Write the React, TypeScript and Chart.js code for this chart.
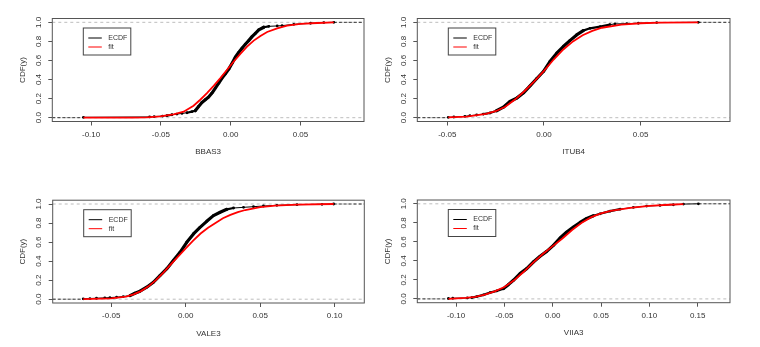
import React, { useEffect, useRef } from 'react';
import { Chart, registerables } from 'chart.js';

Chart.register(...registerables);

// ---------- shared axis values ----------
const yTicks = [0, 0.2, 0.4, 0.6, 0.8, 1.0];
const yRange = [-0.04, 1.04];
const yTitle = 'CDF(y)';
const legendLabels = ['ECDF', 'fit'];

// ---------- BBAS3 ----------
const bbas3Name = 'BBAS3';
const bbas3XTicks = [-0.1, -0.05, 0.0, 0.05];
const bbas3XRange = [-0.1278, 0.0955];
const bbas3EcdfX = [-0.1055, -0.0581, -0.0548, -0.0488, -0.0457, -0.0421, -0.0385, -0.0349, -0.0313, -0.0278, -0.0254, -0.023, -0.0206, -0.0182, -0.0158, -0.0134, -0.011, -0.0086, -0.0062, -0.0038, -0.0014, 0.001, 0.0033, 0.0057, 0.0081, 0.0105, 0.0129, 0.0153, 0.0177, 0.0201, 0.0237, 0.0273, 0.0333, 0.0368, 0.0452, 0.0572, 0.0667, 0.0739];
const bbas3EcdfY = [0.004, 0.008, 0.011, 0.017, 0.021, 0.031, 0.038, 0.045, 0.052, 0.063, 0.073, 0.118, 0.16, 0.188, 0.216, 0.258, 0.31, 0.362, 0.415, 0.46, 0.509, 0.571, 0.634, 0.683, 0.728, 0.77, 0.808, 0.85, 0.885, 0.92, 0.948, 0.958, 0.962, 0.965, 0.979, 0.99, 0.997, 1.0];
const bbas3FitX = [-0.1055, -0.07, -0.06, -0.0505, -0.0409, -0.0337, -0.0266, -0.0218, -0.017, -0.0122, -0.0074, -0.0026, 0.0022, 0.0069, 0.0117, 0.0165, 0.0213, 0.0261, 0.0333, 0.0404, 0.05, 0.062, 0.0739];
const bbas3FitY = [0.0, 0.001, 0.003, 0.014, 0.035, 0.063, 0.125, 0.188, 0.258, 0.334, 0.415, 0.502, 0.589, 0.669, 0.746, 0.808, 0.857, 0.899, 0.937, 0.965, 0.983, 0.993, 1.0];

// ---------- ITUB4 ----------
const itub4Name = 'ITUB4';
const itub4XTicks = [-0.05, 0.0, 0.05];
const itub4XRange = [-0.0655, 0.0962];
const itub4EcdfX = [-0.0495, -0.0466, -0.0409, -0.0383, -0.0348, -0.0314, -0.0279, -0.0245, -0.021, -0.0176, -0.0141, -0.0107, -0.0072, -0.0038, -0.0003, 0.0031, 0.0066, 0.01, 0.0134, 0.0169, 0.0203, 0.0238, 0.029, 0.0341, 0.0367, 0.0428, 0.0488, 0.0583, 0.0798];
const itub4EcdfY = [0.004, 0.007, 0.014, 0.021, 0.028, 0.038, 0.049, 0.073, 0.11, 0.17, 0.205, 0.258, 0.334, 0.408, 0.484, 0.589, 0.676, 0.746, 0.808, 0.868, 0.913, 0.937, 0.955, 0.976, 0.983, 0.986, 0.99, 0.997, 1.0];
const itub4FitX = [-0.0495, -0.04, -0.03, -0.025, -0.02, -0.015, -0.01, -0.005, 0.0, 0.005, 0.01, 0.015, 0.02, 0.025, 0.03, 0.04, 0.05, 0.06, 0.0798];
const itub4FitY = [0.003, 0.012, 0.04, 0.068, 0.115, 0.19, 0.28, 0.38, 0.49, 0.61, 0.715, 0.8, 0.865, 0.91, 0.943, 0.975, 0.99, 0.996, 1.0];

// ---------- VALE3 ----------
const vale3Name = 'VALE3';
const vale3XTicks = [-0.05, 0.0, 0.05, 0.1];
const vale3XRange = [-0.0893, 0.1199];
const vale3EcdfX = [-0.0688, -0.0643, -0.0599, -0.0543, -0.0509, -0.0464, -0.0419, -0.0374, -0.0341, -0.0307, -0.0262, -0.0217, -0.0173, -0.0128, -0.0083, -0.0038, 0.0007, 0.0052, 0.0096, 0.0141, 0.0186, 0.0231, 0.0276, 0.0321, 0.0388, 0.0455, 0.0522, 0.0612, 0.0747, 0.0915, 0.0993];
const vale3EcdfY = [0.004, 0.007, 0.01, 0.014, 0.017, 0.021, 0.028, 0.038, 0.063, 0.084, 0.126, 0.178, 0.248, 0.318, 0.406, 0.493, 0.598, 0.685, 0.755, 0.818, 0.878, 0.913, 0.944, 0.958, 0.965, 0.972, 0.979, 0.986, 0.993, 0.997, 1.0];
const vale3FitX = [-0.0688, -0.05, -0.04, -0.035, -0.03, -0.025, -0.02, -0.015, -0.01, -0.005, 0.0, 0.005, 0.01, 0.015, 0.02, 0.025, 0.03, 0.035, 0.04, 0.05, 0.06, 0.075, 0.0993];
const vale3FitY = [0.001, 0.008, 0.028, 0.05, 0.085, 0.135, 0.2, 0.28, 0.365, 0.45, 0.535, 0.615, 0.69, 0.75, 0.8, 0.85, 0.885, 0.915, 0.937, 0.968, 0.984, 0.994, 1.0];

// ---------- VIIA3 ----------
const viia3Name = 'VIIA3';
const viia3XTicks = [-0.1, -0.05, 0.0, 0.05, 0.1, 0.15];
const viia3XRange = [-0.1401, 0.1834];
const viia3EcdfX = [-0.1079, -0.1034, -0.0883, -0.0838, -0.0786, -0.0717, -0.0648, -0.0579, -0.051, -0.0459, -0.0407, -0.0338, -0.0269, -0.02, -0.0131, -0.0062, 0.0007, 0.0076, 0.0145, 0.0214, 0.0283, 0.0352, 0.0421, 0.049, 0.0593, 0.0697, 0.0834, 0.0972, 0.111, 0.1248, 0.1352, 0.1507];
const viia3EcdfY = [0.004, 0.007, 0.01, 0.014, 0.024, 0.042, 0.066, 0.084, 0.108, 0.15, 0.196, 0.266, 0.318, 0.388, 0.448, 0.5, 0.563, 0.64, 0.703, 0.755, 0.804, 0.846, 0.874, 0.895, 0.923, 0.944, 0.962, 0.976, 0.983, 0.99, 0.997, 1.0];
const viia3FitX = [-0.1079, -0.09, -0.08, -0.07, -0.06, -0.05, -0.04, -0.03, -0.02, -0.01, 0.0, 0.01, 0.02, 0.03, 0.04, 0.05, 0.06, 0.08, 0.1, 0.12, 0.1352];
const viia3FitY = [0.0, 0.01, 0.022, 0.045, 0.08, 0.125, 0.195, 0.285, 0.385, 0.475, 0.555, 0.635, 0.725, 0.8, 0.86, 0.9, 0.925, 0.958, 0.978, 0.99, 0.997];

// ---------- layout (canvas placement and plot box inside canvas) ----------
const FONT = '"Liberation Sans", Arial, Helvetica, sans-serif';
const TEXT = '#333333';
const AXIS = '#555555';

type Box = { x: number; y: number; w: number; h: number; l: number; r: number; t: number; b: number };

const bbas3Box: Box = { x: 0, y: 0, w: 380, h: 174, l: 52.3, r: 364, t: 18.5, b: 121.5 };
const itub4Box: Box = { x: 380, y: 0, w: 380, h: 174, l: 37.3, r: 350, t: 18.5, b: 121.5 };
const vale3Box: Box = { x: 0, y: 174, w: 380, h: 173, l: 52.7, r: 364.3, t: 26.2, b: 129 };
const viia3Box: Box = { x: 380, y: 174, w: 380, h: 173, l: 37.3, r: 350, t: 26, b: 128.7 };

const toPts = (xs: number[], ys: number[]) => {
  const n = Math.min(xs.length, ys.length);
  const out: { x: number; y: number }[] = [];
  for (let i = 0; i < n; i++) out.push({ x: xs[i], y: ys[i] });
  return out;
};

type PanelProps = {
  name: string;
  xTicks: number[];
  xRange: number[];
  ecdfX: number[];
  ecdfY: number[];
  fitX: number[];
  fitY: number[];
  box: Box;
};

function Panel({ name, xTicks, xRange, ecdfX, ecdfY, fitX, fitY, box }: PanelProps) {
  const ref = useRef<HTMLCanvasElement | null>(null);

  useEffect(() => {
    const canvas = ref.current;
    if (!canvas) return;
    const n = ecdfX.length;

    const frameAndLegend = {
      id: 'frameAndLegend',
      afterDatasetsDraw(chart: any) {
        const { ctx, chartArea: a } = chart;
        ctx.save();
        ctx.strokeStyle = AXIS;
        ctx.lineWidth = 1;
        ctx.strokeRect(a.left, a.top, a.right - a.left, a.bottom - a.top);

        const lx = a.left + 31;
        const ly = a.top + 9.5;
        const lw = 47.5;
        const lh = 27;
        ctx.fillStyle = '#ffffff';
        ctx.fillRect(lx, ly, lw, lh);
        ctx.strokeStyle = '#444444';
        ctx.strokeRect(lx, ly, lw, lh);
        const colors = ['#000000', '#ff0000'];
        legendLabels.forEach((label, i) => {
          const y = ly + 10 + i * 9;
          ctx.strokeStyle = colors[i];
          ctx.lineWidth = 1;
          ctx.beginPath();
          ctx.moveTo(lx + 5, y);
          ctx.lineTo(lx + 18.5, y);
          ctx.stroke();
          ctx.fillStyle = TEXT;
          ctx.font = `7px ${FONT}`;
          ctx.textAlign = 'left';
          ctx.textBaseline = 'middle';
          ctx.fillText(label, lx + 25, y);
        });
        ctx.restore();
      },
    };

    const font = { family: FONT, size: 8 };
    const chart = new Chart(canvas, {
      type: 'line',
      data: {
        datasets: [
          {
            label: legendLabels[1],
            data: toPts(fitX, fitY),
            borderColor: '#ff0000',
            borderWidth: 1.8,
            pointRadius: 0,
            tension: 0,
            order: 1,
          },
          {
            label: legendLabels[0],
            data: toPts(ecdfX, ecdfY),
            borderColor: '#000000',
            backgroundColor: '#000000',
            pointBackgroundColor: '#000000',
            pointBorderWidth: 0,
            pointRadius: 1.4,
            borderWidth: 1,
            borderCapStyle: 'round',
            borderJoinStyle: 'round',
            tension: 0,
            order: 2,
            segment: {
              borderWidth: (c: any) => {
                const dx = Math.max(c.p1.x - c.p0.x, 0.1);
                const slope = (c.p0.y - c.p1.y) / dx;
                return slope > 0.35 ? 3.2 : slope > 0.15 ? 2.2 : 1;
              },
            },
          },
          {
            label: 'lower',
            data: [{ x: xRange[0], y: 0 }, { x: ecdfX[0], y: 0 }],
            borderColor: '#333333',
            borderWidth: 1,
            borderDash: [3, 2],
            pointRadius: 0,
            order: 3,
          },
          {
            label: 'upper',
            data: [{ x: ecdfX[n - 1], y: 1 }, { x: xRange[1], y: 1 }],
            borderColor: '#333333',
            borderWidth: 1,
            borderDash: [3, 2],
            pointRadius: 0,
            order: 3,
          },
          {
            label: 'h0',
            data: [{ x: xRange[0], y: 0 }, { x: xRange[1], y: 0 }],
            borderColor: '#bdbdbd',
            borderWidth: 1,
            borderDash: [3, 3],
            pointRadius: 0,
            order: 5,
          },
          {
            label: 'h1',
            data: [{ x: xRange[0], y: 1 }, { x: xRange[1], y: 1 }],
            borderColor: '#bdbdbd',
            borderWidth: 1,
            borderDash: [3, 3],
            pointRadius: 0,
            order: 5,
          },
        ],
      },
      options: {
        responsive: false,
        maintainAspectRatio: false,
        devicePixelRatio: 1,
        animation: false,
        events: [],
        layout: { padding: { left: 0, top: box.t, right: box.w - box.r, bottom: 0 } },
        plugins: {
          legend: { display: false },
          tooltip: { enabled: false },
          title: { display: false },
        },
        scales: {
          x: {
            type: 'linear',
            min: xRange[0],
            max: xRange[1],
            afterBuildTicks: (s: any) => {
              s.ticks = xTicks.map((v) => ({ value: v }));
            },
            afterFit: (s: any) => {
              s.height = box.h - box.b;
            },
            ticks: {
              autoSkip: false,
              minRotation: 0,
              maxRotation: 0,
              padding: 4,
              color: TEXT,
              font,
              callback: (v: any) => Number(v).toFixed(2),
            },
            grid: { drawOnChartArea: false, drawTicks: true, tickLength: 4, color: AXIS, tickColor: AXIS },
            border: { display: false },
            title: {
              display: true,
              text: name,
              color: TEXT,
              font,
              padding: { top: 0, bottom: box.h - box.b - 30.5 - 4.8 },
            },
          },
          y: {
            type: 'linear',
            min: yRange[0],
            max: yRange[1],
            afterBuildTicks: (s: any) => {
              s.ticks = yTicks.map((v) => ({ value: v }));
            },
            afterFit: (s: any) => {
              s.width = box.l;
            },
            ticks: {
              autoSkip: false,
              minRotation: 90,
              maxRotation: 90,
              crossAlign: 'center',
              padding: 4,
              color: TEXT,
              font,
              callback: (v: any) => Number(v).toFixed(1),
            },
            grid: { drawOnChartArea: false, drawTicks: true, tickLength: 4, color: AXIS, tickColor: AXIS },
            border: { display: false },
            title: {
              display: true,
              text: yTitle,
              color: TEXT,
              font,
              padding: { top: Math.max(box.l - 29.8 - 4.8, 0), bottom: 0 },
            },
          },
        },
      } as any,
      plugins: [frameAndLegend],
    });

    return () => chart.destroy();
  }, [name, xTicks, xRange, ecdfX, ecdfY, fitX, fitY, box]);

  return (
    <canvas
      ref={ref}
      width={box.w}
      height={box.h}
      style={{ position: 'absolute', left: box.x, top: box.y, width: box.w, height: box.h, display: 'block' }}
    />
  );
}

export default function App() {
  return (
    <div style={{ position: 'absolute', left: 0, top: 0, width: 760, height: 347, background: '#ffffff', overflow: 'hidden' }}>
      <Panel name={bbas3Name} xTicks={bbas3XTicks} xRange={bbas3XRange} ecdfX={bbas3EcdfX} ecdfY={bbas3EcdfY} fitX={bbas3FitX} fitY={bbas3FitY} box={bbas3Box} />
      <Panel name={itub4Name} xTicks={itub4XTicks} xRange={itub4XRange} ecdfX={itub4EcdfX} ecdfY={itub4EcdfY} fitX={itub4FitX} fitY={itub4FitY} box={itub4Box} />
      <Panel name={vale3Name} xTicks={vale3XTicks} xRange={vale3XRange} ecdfX={vale3EcdfX} ecdfY={vale3EcdfY} fitX={vale3FitX} fitY={vale3FitY} box={vale3Box} />
      <Panel name={viia3Name} xTicks={viia3XTicks} xRange={viia3XRange} ecdfX={viia3EcdfX} ecdfY={viia3EcdfY} fitX={viia3FitX} fitY={viia3FitY} box={viia3Box} />
    </div>
  );
}
